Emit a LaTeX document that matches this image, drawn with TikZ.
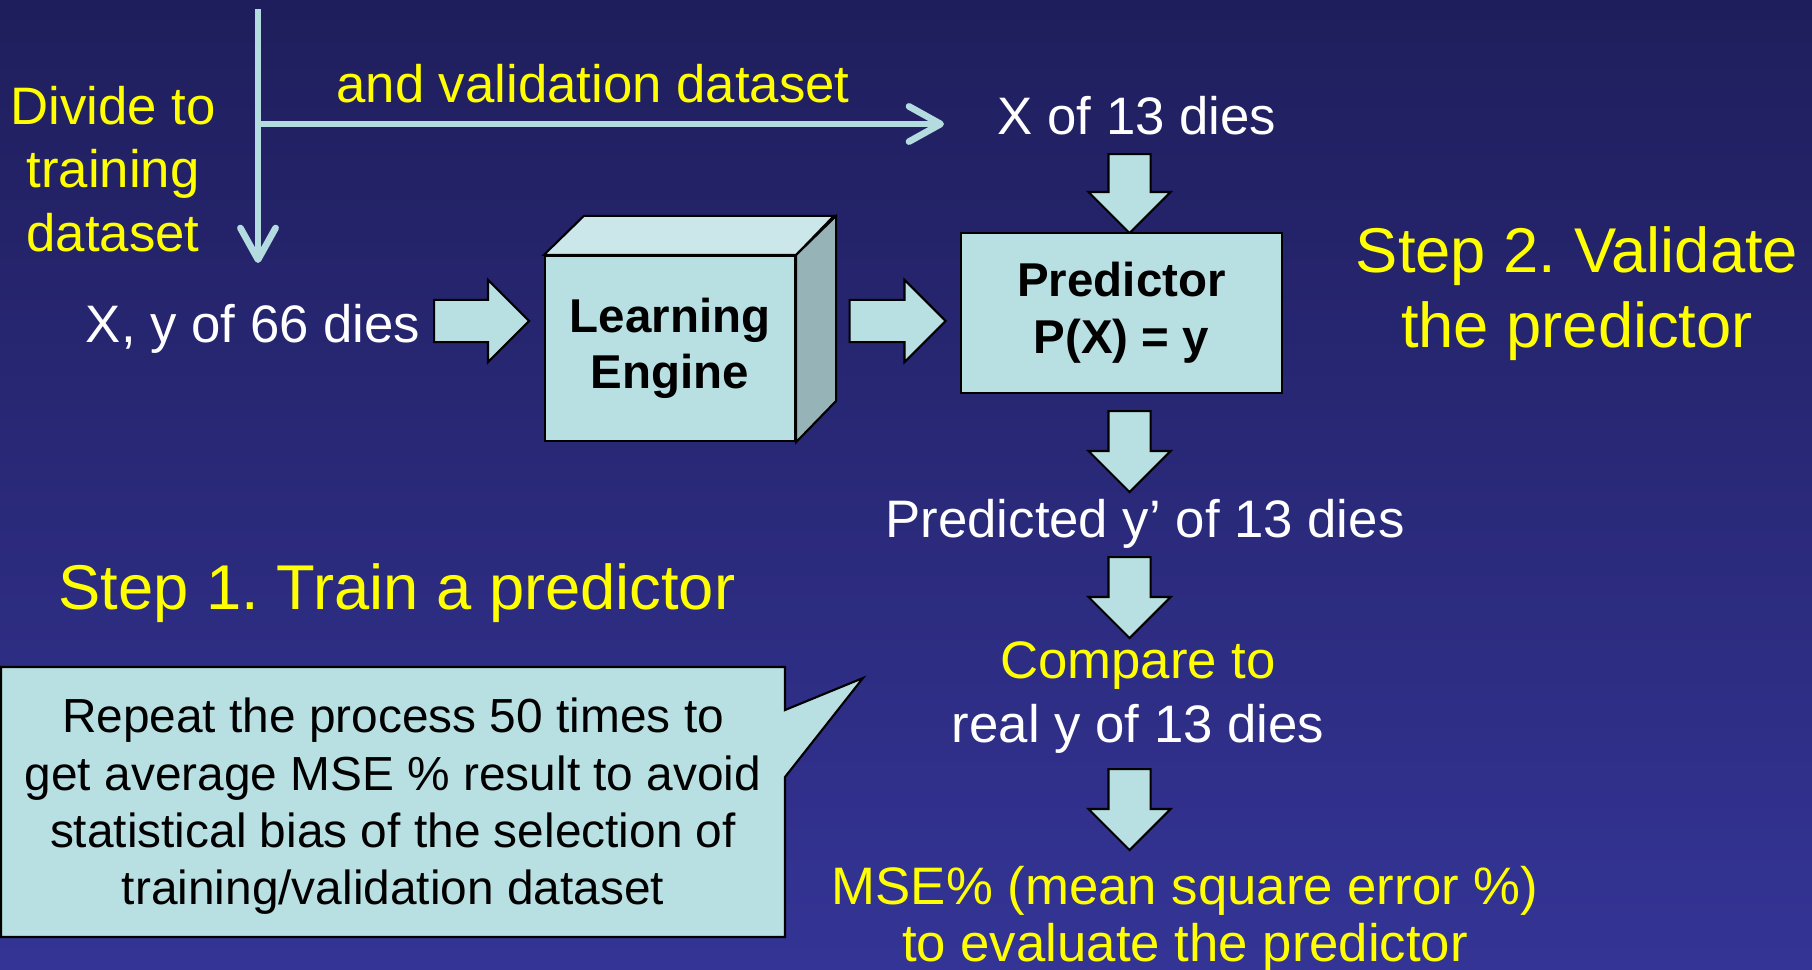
\documentclass[tikz,border=0pt]{standalone}
\usepackage{fontspec}
\setmainfont{Liberation Sans}
\usepackage{xcolor}
\usepackage{tikz}
\usetikzlibrary{shapes.arrows,arrows.meta}
\frenchspacing

\definecolor{bgtop}{RGB}{31,30,92}
\definecolor{bgbot}{RGB}{52,52,150}
\definecolor{boxfill}{RGB}{184,223,225}
\definecolor{boxtop}{RGB}{203,231,233}
\definecolor{boxside}{RGB}{150,180,184}
\definecolor{linecol}{RGB}{180,220,224}
\definecolor{txtyellow}{RGB}{255,255,0}

\tikzset{
  boxline/.style={draw=black, line width=0.6pt},
  fatarrow/.style={boxline, fill=boxfill, single arrow, inner xsep=0pt,
    inner ysep=0.2cm, single arrow head extend=0.2cm, anchor=tail},
  splitline/.style={draw=linecol, line width=1.9pt,
    -{Straight Barb[length=9pt,width=10pt,round]}},
  wtext/.style={text=white, inner sep=0pt, align=center,
    font=\fontsize{15}{18.1}\selectfont},
  ytext/.style={wtext, text=txtyellow},
  steptext/.style={ytext, font=\fontsize{18}{21.3}\selectfont},
  boldtext/.style={boxline, fill=boxfill, inner sep=0pt, align=center,
    font=\fontsize{13.5}{16.1}\selectfont\bfseries},
  notetext/.style={inner sep=0pt, align=center,
    font=\fontsize{13.6}{16.3}\selectfont}
}

\begin{document}
\begin{tikzpicture}[x=0.01cm, y=-0.01cm]
\useasboundingbox (0,0) rectangle (1812,969);
\shade[top color=bgtop, bottom color=bgbot] (0,0) rectangle (1812,969);

% the split into training and validation sets
\coordinate (splittop) at (258,9);
\coordinate (split) at (258,124);
\coordinate (trainend) at (258,263);
\coordinate (validend) at (944,124);
\draw[splitline] (splittop) -- (trainend);
\draw[splitline] (split) -- (validend);

\node[ytext] (divide) at (113,169) {Divide to\\training\\dataset};
\node[ytext, anchor=base] (validlbl) at (593,102) {and validation dataset};

% step 1
\node[wtext, anchor=base] (trainset) at (253,342) {X, y of 66 dies};
\node[fatarrow, minimum height=0.95cm] (toengine) at (433,321) {};
\node[boldtext, minimum width=2.5cm, minimum height=1.85cm] (engine) at (670,348.5) {Learning\\Engine};
\draw[boxline, fill=boxtop] (engine.north west) -- ++(40,-39) -- ++(250,0) -- (engine.north east) -- cycle;
\draw[boxline, fill=boxside] (engine.north east) -- ++(40,-39) -- ++(0,185) -- (engine.south east) -- cycle;
\node[fatarrow, minimum height=0.96cm] (topred) at (848.5,321) {};
\node[steptext, anchor=base] (step1) at (397,609) {Step 1. Train a predictor};

% step 2
\node[wtext, anchor=base] (validset) at (1137,134) {X of 13 dies};
\node[fatarrow, minimum height=0.79cm, rotate=-90] (down1) at (1129.6,153) {};
\node[boldtext, minimum width=3.21cm, minimum height=1.6cm] (predictor) at (1121.5,313) {Predictor\\P(X) = y};
\node[fatarrow, minimum height=0.81cm, rotate=-90] (down2) at (1129.6,410) {};
\node[wtext, anchor=base] (predicted) at (1145,537) {Predicted y’ of 13 dies};
\node[fatarrow, minimum height=0.81cm, rotate=-90] (down3) at (1129.6,556) {};
\node[wtext] (compare) at (1138,697.5) {\textcolor{txtyellow}{Compare to}\\real y of 13 dies};
\node[fatarrow, minimum height=0.81cm, rotate=-90] (down4) at (1129.6,768) {};
\node[ytext, font=\fontsize{15}{16.4}\selectfont] (mse) at (1185,919.5) {MSE\% (mean square error \%)\\to evaluate the predictor};
\node[steptext] (step2) at (1577,294) {Step 2. Validate\\the predictor};

% the note
\draw[boxline, fill=boxfill] (1,667) -- (785,667) -- (785,710) -- (863,678) -- (785,777) -- (785,937) -- (1,937) -- cycle;
\node[notetext] (repeat) at (393,806.5) {Repeat the process 50 times to\\get average MSE \% result to avoid\\statistical bias of the selection of\\training/validation dataset};

\end{tikzpicture}
\end{document}
